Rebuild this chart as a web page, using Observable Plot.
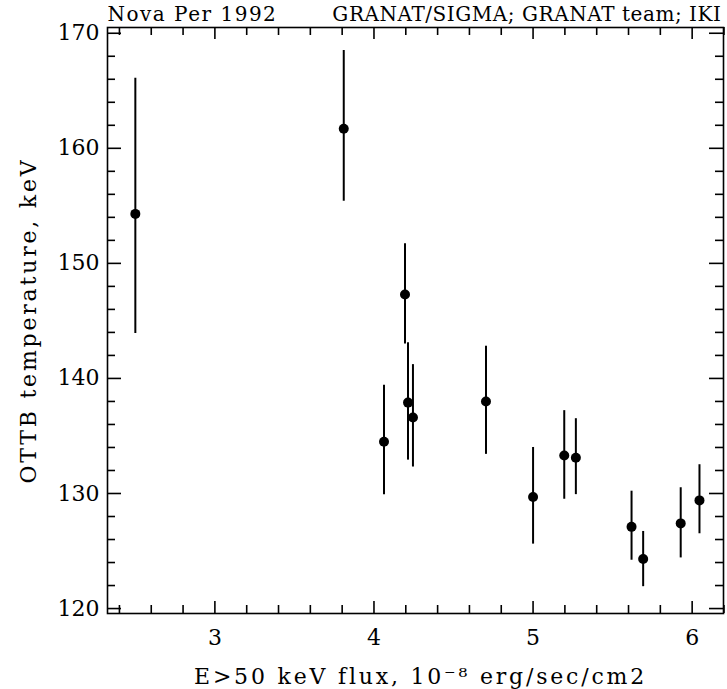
<!DOCTYPE html>
<html>
<head>
<meta charset="utf-8">
<script src="https://cdn.jsdelivr.net/npm/d3@7"></script>
<script src="https://cdn.jsdelivr.net/npm/@observablehq/plot@0.6"></script>
<style>
  html, body { margin: 0; padding: 0; background: white; }
</style>
</head>
<body>
<div id="chart"></div>
<script>
// Data
const flux  = [2.50, 3.81, 4.063, 4.195, 4.214, 4.245, 4.704, 5.00, 5.196, 5.269, 5.619, 5.692, 5.928, 6.046];
const temp  = [154.3, 161.7, 134.5, 147.3, 137.9, 136.6, 138.0, 129.7, 133.3, 133.1, 127.1, 124.3, 127.4, 129.4];
const tempHi = [166.1, 168.5, 139.4, 151.7, 143.1, 141.2, 142.8, 134.0, 137.2, 136.5, 130.2, 126.7, 130.5, 132.5];
const tempLo = [143.9, 155.4, 129.9, 143.0, 132.9, 132.3, 133.4, 125.6, 129.5, 129.9, 124.2, 121.9, 124.4, 126.5];

const xMajorTicks = [3, 4, 5, 6];
const xMinorTicks = [2.4, 2.6, 2.8, 3.2, 3.4, 3.6, 3.8, 4.2, 4.4, 4.6, 4.8, 5.2, 5.4, 5.6, 5.8, 6.2];
const yMajorTicks = [120, 130, 140, 150, 160, 170];
const yMinorTicks = [122, 124, 126, 128, 132, 134, 136, 138, 142, 144, 146, 148, 152, 154, 156, 158, 162, 164, 166, 168];

const titleLeft = "Nova Per 1992";
const titleRight = "GRANAT/SIGMA; GRANAT team; IKI";
const xLabel = "E>50 keV flux, 10⁻⁸ erg/sec/cm2";
const yLabel = "OTTB temperature, keV";

const data = flux.map((f, i) => ({flux: f, temp: temp[i], hi: tempHi[i], lo: tempLo[i]}));

const font = "DejaVu Serif";
const W = 727, H = 689, mL = 107, mR = 4, mT = 27, mB = 76;
const frameW = W - mL - mR, frameH = H - mT - mB;

// inward ticks as rules trimmed by insets (lengths in pixels)
const ticksBottom = (v, len) => Plot.ruleX(v, {x: d => d, insetTop: frameH - len, stroke: "black", strokeWidth: 1.6});
const ticksTop = (v, len) => Plot.ruleX(v, {x: d => d, insetBottom: frameH - len, stroke: "black", strokeWidth: 1.6});
const ticksLeft = (v, len) => Plot.ruleY(v, {y: d => d, insetRight: frameW - len, stroke: "black", strokeWidth: 1.6});
const ticksRight = (v, len) => Plot.ruleY(v, {y: d => d, insetLeft: frameW - len, stroke: "black", strokeWidth: 1.6});

const chart = Plot.plot({
  width: W,
  height: H,
  marginLeft: mL,
  marginRight: mR,
  marginTop: mT,
  marginBottom: mB,
  x: {domain: [2.325, 6.197]},
  y: {domain: [119.57, 170.5]},
  style: {fontFamily: font, fontSize: "20px", color: "black", background: "white"},
  marks: [
    Plot.frame({stroke: "black", strokeWidth: 1.6}),
    ticksBottom(xMinorTicks, 8),
    ticksBottom(xMajorTicks, 12),
    ticksTop(xMinorTicks, 8),
    ticksTop(xMajorTicks, 12),
    ticksLeft(yMinorTicks, 8),
    ticksLeft(yMajorTicks, 14),
    ticksRight(yMinorTicks, 8),
    ticksRight(yMajorTicks, 14),
    // tick labels
    Plot.axisX(xMajorTicks, {anchor: "bottom", tickSize: 0, tickPadding: 16, fontSize: 22, tickFormat: d => String(d), label: null}),
    Plot.axisY(yMajorTicks, {anchor: "left", tickSize: 0, tickPadding: 8, fontSize: 22, tickFormat: d => String(d), label: null}),
    // axis titles
    Plot.text([xLabel], {frameAnchor: "bottom", dy: 63, dx: 5, fontSize: 22, textAnchor: "middle", lineAnchor: "middle"}),
    Plot.text([yLabel], {frameAnchor: "left", dx: -79, rotate: -90, fontSize: 22, textAnchor: "middle", lineAnchor: "middle"}),
    // header texts
    Plot.text([titleLeft], {frameAnchor: "top-left", dy: -13, textAnchor: "start", fontSize: 20, lineAnchor: "middle"}),
    Plot.text([titleRight], {frameAnchor: "top-right", dy: -13, dx: -2, textAnchor: "end", fontSize: 20, lineAnchor: "middle"}),
    // error bars and points
    Plot.ruleX(data, {x: "flux", y1: "lo", y2: "hi", stroke: "black", strokeWidth: 2}),
    Plot.dot(data, {x: "flux", y: "temp", r: 5, fill: "black", stroke: "none"})
  ]
});

const spacing = new Map([[xLabel, 2.8], [yLabel, 2.8], [titleLeft, 1.5], [titleRight, 0.55]]);
d3.select(chart).selectAll("text").each(function () {
  const ls = spacing.get(this.textContent);
  if (ls !== undefined) {
    this.setAttribute("letter-spacing", ls);
    this.style.letterSpacing = ls + "px";
  }
});

document.getElementById("chart").appendChild(chart);
</script>
</body>
</html>
